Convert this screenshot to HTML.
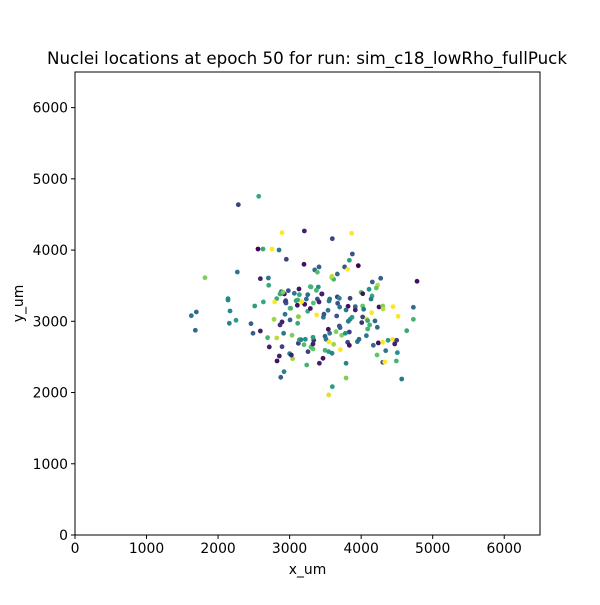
<!DOCTYPE html>
<html><head><meta charset="utf-8"><style>
html,body{margin:0;padding:0;background:#fff}
text{font-family:"DejaVu Sans","Liberation Sans",sans-serif;fill:#000}
</style></head><body>
<svg id="chart" width="600" height="600" viewBox="0 0 600 600" xmlns="http://www.w3.org/2000/svg">
<text x="307" y="64" font-size="16.7" text-anchor="middle">Nuclei locations at epoch 50 for run: sim_c18_lowRho_fullPuck</text>
<g id="points"></g>
<rect x="75" y="72" width="465" height="463" fill="none" stroke="#000" stroke-width="1"/>
<g id="xticks"></g>
<g id="yticks"></g>
<text x="307.5" y="574" font-size="13.9" text-anchor="middle">x_um</text>
<text x="23" y="303.5" font-size="13.9" text-anchor="middle" transform="rotate(-90 23 303.5)">y_um</text>
</svg>
<script>
const xVals=[2568,2283,2894,2558,2628,2754,2852,2954,2269,1817,2591,2703,2708,2139,2820,2884,2982,2926,3131,3206,3597,3867,3877,3835,3960,3769,3811,3201,3351,3411,3388,3667,3588,3616,3592,4156,4273,4781,4231,4212,4110,3998,4022,3299,3401,3448,3253,3667,3695,3845,3560,4152,4138,3388,3234,2139,1626,1696,1682,2167,2157,2251,2460,2488,2591,2512,2633,2791,2940,2692,2716,2820,2894,2782,2894,2866,2936,3006,2916,3034,2856,2824,3000,3042,3024,2922,2876,3122,3136,3113,3108,3127,3006,2950,3113,3178,3211,3332,3378,3253,3551,3672,3817,3700,3918,3918,4021,4035,3789,4250,4302,4306,4446,4730,4516,4730,4147,3873,3658,3472,3845,3820,4021,4008,4077,4090,4119,4193,4226,4091,4073,3541,3560,3695,3705,3649,3728,3835,3779,3495,3509,3551,3616,3811,3835,3947,3970,3709,3495,3546,3593,3467,3416,3257,3327,3299,3201,3160,3220,3327,3337,3327,3239,3789,3789,3597,3546,4240,4302,4376,4440,4497,4469,4170,4222,4343,4506,4302,4330,4492,4567,4637,2866,2908,3066,3136,3290,3374,3453,2945,3015,3090,3169,3411,3537,3480,3122,3290];
const yVals=[4755,4637,4244,4015,4015,4015,4001,3871,3692,3612,3599,3608,3506,3318,3318,3416,3430,3384,3454,4268,4160,4236,3945,3857,3781,3763,3730,3800,3721,3763,3689,3664,3618,3590,3632,3552,3604,3562,3510,3468,3449,3407,3388,3482,3482,3384,3374,3342,3323,3323,3313,3356,3313,3313,3313,3299,3079,3131,2874,3145,2972,3014,2967,2832,2864,3215,3272,3272,3276,2770,2640,2766,2644,3028,2991,2949,3099,3019,2832,2804,2513,2443,2546,2475,2527,2293,2214,2691,2740,3299,3225,3061,3183,3257,2972,3262,3239,3257,3089,3141,3285,3253,3211,3200,3206,3159,3215,3169,3159,3201,3215,3173,3206,3197,3071,3028,3122,3057,3075,3057,3028,3000,3061,2982,3033,3010,2949,3005,2916,2892,2798,2888,2832,2934,2910,2855,2804,2850,2832,2790,2748,2710,2677,2705,2663,2714,2747,2602,2593,2574,2551,2481,2411,2574,2612,2640,2672,2742,2747,2682,2733,2776,2387,2411,2204,2082,1966,2696,2705,2733,2747,2733,2682,2663,2527,2588,2560,2425,2429,2443,2190,2868,3384,3407,3393,3374,3487,3435,3384,3290,3183,3290,3276,3272,3155,3100,3066,3180];
const cVals=[0.6,0.2,1,0,0.6,1,0.4,0.2,0.4,0.8,0.1,0.4,0.6,0.5,0.6,0.4,0.25,0.05,0.05,0.1,0.2,1,0.25,0.55,0,0.25,1,0.05,0.35,0.3,0.7,0.35,0.8,0.65,0.9,0.3,0.3,0.05,0.9,0.75,0.5,0.75,0.05,0.65,0.5,0.1,0.35,0.2,0.45,0.2,0.35,0.6,0.4,0.25,0.35,0.45,0.4,0.35,0.35,0.45,0.45,0.55,0.3,0.3,0.1,0.55,0.6,1,0.2,0.65,0.1,0.9,0.2,0.85,0.1,0.15,0.4,0.3,0.4,0.8,0.1,0.05,0.45,0.85,0.1,0.45,0.3,0.2,0.6,0.6,0.05,1,0.65,0.25,0.6,1,0.05,0.7,1,0.6,0.4,0.25,0.05,0.4,0.35,0.1,0.75,0.4,0.4,0.05,0.8,0.9,1,0.35,1,0.65,1,0.55,0.25,0.4,0.5,0.4,0.2,0.15,0.95,0.6,0.65,0.35,0.35,0.65,0.4,0.05,0.4,0.25,0.3,0.8,0.8,0.2,0.5,0.3,0.4,1,0.85,0.2,0.05,0.4,0.35,1,0.65,0.55,0.45,0.05,0.1,0.2,0.75,0.7,0.7,0.45,0.5,0.1,0.15,0.55,0.65,0.45,0.8,0.55,0.95,0.05,1,0.55,1,0.2,0.1,0.35,0.75,0.4,0.5,0.25,1,0.65,0.4,0.6,0.6,0.8,0.4,0.6,0.65,0.65,0.1,0.2,0.65,0.6,1,0.1,0.4,0.25,0.8,0.05];
const xTicks=[0,1000,2000,3000,4000,5000,6000];
const yTicks=[0,1000,2000,3000,4000,5000,6000];
const xMin=0,xMax=6500,yMin=0,yMax=6500;
const L=75,R=540,T=72,B=535;
function sx(v){return L+(v-xMin)/(xMax-xMin)*(R-L);}
function sy(v){return B-(v-yMin)/(yMax-yMin)*(B-T);}
const stops=[[68,1,84],[59,82,139],[33,145,140],[94,201,98],[253,231,37]];
function viridis(t){t=Math.max(0,Math.min(1,t));const p=t*(stops.length-1);const i=Math.min(Math.floor(p),stops.length-2);const f=p-i;const a=stops[i],b=stops[i+1];return 'rgb('+[0,1,2].map(k=>Math.round(a[k]+(b[k]-a[k])*f)).join(',')+')';}
const NS='http://www.w3.org/2000/svg';
const pts=document.getElementById('points');
for(let i=0;i<xVals.length;i++){
  const c=document.createElementNS(NS,'circle');
  c.setAttribute('cx',sx(xVals[i]));c.setAttribute('cy',sy(yVals[i]));c.setAttribute('r',2.4);
  c.setAttribute('fill',viridis(cVals[i]));
  
  
  pts.appendChild(c);
}
const xg=document.getElementById('xticks');
xTicks.forEach(v=>{
  const x=sx(v);
  const l=document.createElementNS(NS,'line');
  l.setAttribute('x1',x);l.setAttribute('x2',x);l.setAttribute('y1',B);l.setAttribute('y2',B+4);l.setAttribute('stroke','#000');
  
  
  xg.appendChild(l);
  const t=document.createElementNS(NS,'text');
  t.setAttribute('x',x);t.setAttribute('y',B+18);t.setAttribute('font-size','13.9');t.setAttribute('text-anchor','middle');
  t.textContent=v;
  
  
  xg.appendChild(t);
});
const yg=document.getElementById('yticks');
yTicks.forEach(v=>{
  const y=sy(v);
  const l=document.createElementNS(NS,'line');
  l.setAttribute('x1',L-4);l.setAttribute('x2',L);l.setAttribute('y1',y);l.setAttribute('y2',y);l.setAttribute('stroke','#000');
  
  
  yg.appendChild(l);
  const t=document.createElementNS(NS,'text');
  t.setAttribute('x',L-7);t.setAttribute('y',y+5);t.setAttribute('font-size','13.9');t.setAttribute('text-anchor','end');
  t.textContent=v;
  
  
  yg.appendChild(t);
});
</script>
</body></html>
